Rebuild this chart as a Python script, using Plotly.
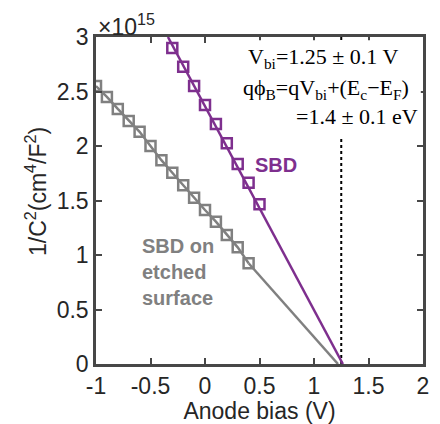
import plotly.graph_objects as go

# ---- data (values of 1/C^2 in units of 1e15 cm^4/F^2) ----
grey_x = [-1.0, -0.9, -0.8, -0.7, -0.6, -0.5, -0.4, -0.3, -0.2, -0.1, 0.0, 0.1, 0.2, 0.3, 0.4]
grey_y = [2.55, 2.45, 2.34, 2.23, 2.13, 2.00, 1.87, 1.755, 1.64, 1.525, 1.413, 1.306, 1.183, 1.07, 0.924]
grey_fit_x = [0.4, 1.22]
grey_fit_y = [0.924, 0.0]

purple_x = [-0.3, -0.2, -0.1, 0.0, 0.1, 0.2, 0.3, 0.4, 0.5]
purple_y = [2.90, 2.728, 2.55, 2.376, 2.202, 2.025, 1.835, 1.663, 1.465]
purple_fit_x = [-0.34, 1.265]
purple_fit_y = [3.0, 0.0]

vbi_x = [1.25, 1.25]
vbi_y = [0.0, 3.0]

x_ticks = [-1, -0.5, 0, 0.5, 1, 1.5, 2]
x_ticktext = ["-1", "-0.5", "0", "0.5", "1", "1.5", "2"]
y_ticks = [0, 0.5, 1, 1.5, 2, 2.5, 3]
y_ticktext = ["0", "0.5", "1", "1.5", "2", "2.5", "3"]

PURPLE = "#7E2F8E"
GREY = "#808080"
AXC = "#474747"
TXT = "#262626"
SANS = "Liberation Sans, Arial, sans-serif"
SERIF = "Liberation Serif, Times New Roman, serif"

fig = go.Figure()
fig.add_trace(go.Scatter(x=vbi_x, y=vbi_y, mode="lines",
                         line=dict(color="black", width=2, dash="dot")))
fig.add_trace(go.Scatter(x=grey_fit_x, y=grey_fit_y, mode="lines",
                         line=dict(color=GREY, width=2.5)))
fig.add_trace(go.Scatter(x=grey_x, y=grey_y, mode="lines+markers",
                         line=dict(color=GREY, width=2.5),
                         marker=dict(symbol="square-open", size=10, color=GREY,
                                     line=dict(width=2.5, color=GREY))))
fig.add_trace(go.Scatter(x=purple_fit_x, y=purple_fit_y, mode="lines",
                         line=dict(color=PURPLE, width=2.5)))
fig.add_trace(go.Scatter(x=purple_x, y=purple_y, mode="markers",
                         marker=dict(symbol="square-open", size=10, color=PURPLE,
                                     line=dict(width=2.5, color=PURPLE))))

axis_common = dict(showgrid=False, zeroline=False, showline=True, linecolor=AXC,
                   linewidth=2.5, mirror="ticks", ticks="inside", ticklen=6,
                   tickwidth=2, tickcolor=AXC, automargin=False,
                   tickfont=dict(family=SANS, size=23, color=TXT))

# the page adds an 8px body margin, so the figure is 8px smaller and the
# left/top margins are 8px smaller to keep the plot area in place
fig.update_layout(
    width=432, height=416,
    margin=dict(l=88, r=17, t=29, b=60),
    plot_bgcolor="white", paper_bgcolor="white",
    showlegend=False,
    xaxis=dict(range=[-1, 2], tickvals=x_ticks, ticktext=x_ticktext,
               title=dict(text="Anode bias (V)", font=dict(family=SANS, size=23, color=TXT),
                          standoff=4),
               **axis_common),
    yaxis=dict(range=[0, 3], tickvals=y_ticks, ticktext=y_ticktext,
               **axis_common),
)

# y-axis title
fig.add_annotation(x=-0.1835, y=0.529, xref="paper", yref="paper", showarrow=False,
                   textangle=-90, xanchor="center", yanchor="middle",
                   text="1/C<sup>2</sup>(cm<sup>4</sup>/F<sup>2</sup>)",
                   font=dict(family=SANS, size=23, color=TXT))

# white box behind the equations
fig.add_shape(type="rect", xref="x", yref="y", x0=0.3, x1=1.98, y0=2.07, y1=2.97,
              fillcolor="white", line=dict(width=0), layer="above")

eq_font = dict(family=SERIF, size=22, color="black")
fig.add_annotation(x=1.078, y=2.807, xref="x", yref="y", showarrow=False,
                   text="V<sub>bi</sub>=1.25 ± 0.1 V", font=eq_font)
fig.add_annotation(x=1.11, y=2.52, xref="x", yref="y", showarrow=False,
                   text="qϕ<sub>B</sub>=qV<sub>bi</sub>+(E<sub>c</sub>−E<sub>F</sub>)", font=eq_font)
fig.add_annotation(x=1.392, y=2.275, xref="x", yref="y", showarrow=False,
                   text="=1.4 ± 0.1 eV", font=eq_font)

fig.add_annotation(x=0.651, y=1.826, xref="x", yref="y", showarrow=False,
                   text="<b>SBD</b>", font=dict(family=SANS, size=20, color=PURPLE))
fig.add_annotation(x=-0.596, y=0.844, xref="x", yref="y", showarrow=False,
                   xanchor="left", align="left",
                   text="<b>SBD on<br>etched<br>surface</b>",
                   font=dict(family=SANS, size=20, color=GREY))

fig.add_annotation(x=0.0, y=1.0, xref="paper", yref="paper", showarrow=False,
                   xanchor="left", yanchor="bottom", yshift=-5,
                   text="×10<sup>15</sup>", font=dict(family=SANS, size=23, color=TXT))

fig.write_html("out.html")
